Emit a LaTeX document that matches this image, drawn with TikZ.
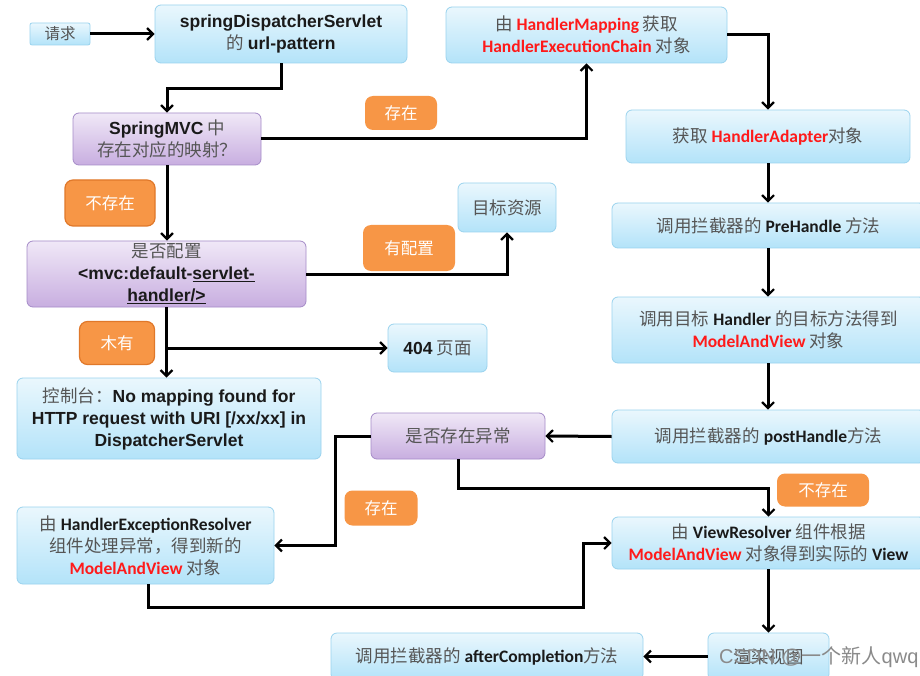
\documentclass[tikz,border=0pt]{standalone}
\usepackage{fontspec}
\setmainfont{Carlito}
\newfontfamily\cjk{Noto Sans CJK SC}
\newfontfamily\arialf{Liberation Sans}
\usetikzlibrary{arrows.meta}
\definecolor{zhgray}{HTML}{555555}
\definecolor{bluetop}{HTML}{EAF7FD}
\definecolor{bluebot}{HTML}{B3E3F9}
\definecolor{blueline}{HTML}{9AD3EE}
\definecolor{purtop}{HTML}{F0E8F7}
\definecolor{purbot}{HTML}{C8AEE0}
\definecolor{purline}{HTML}{A58BC8}
\definecolor{orfill}{HTML}{F79646}
\definecolor{orline}{HTML}{E0782A}
\definecolor{hired}{HTML}{FF1A1A}
\definecolor{txtblack}{HTML}{1A1A1A}
\definecolor{wmgray}{HTML}{8A8A8A}
\newcommand\zh[1]{{\cjk\fontsize{17.5}{22}\selectfont\color{zhgray}#1}}
\newcommand\rd[1]{{\bfseries\color{hired}#1}}
\newcommand\bk[1]{{\bfseries\color{txtblack}#1}}
\newcommand\ab[1]{{\arialf\bfseries\color{txtblack}#1}}
\begin{document}
\begin{tikzpicture}[x=1pt,y=-1pt,
  base/.style={align=center,inner sep=0pt,rounded corners=6pt,font=\fontsize{17.5}{22}\selectfont},
  bluebox/.style={base,draw=blueline,line width=0.8pt,top color=bluetop,bottom color=bluebot},
  purbox/.style={base,draw=purline,line width=0.8pt,top color=purtop,bottom color=purbot},
  orbox/.style={base,draw=orline,line width=1.2pt,fill=orfill,rounded corners=8pt,text=white,font=\cjk\fontsize{16.5}{20}\selectfont},
  arr/.style={line width=3pt,-{Straight Barb[length=6pt,width=12pt,line width=2.2pt]}},
  ln/.style={line width=3pt}]
\useasboundingbox (0,0) rectangle (920,676);
\fill[white] (0,0) rectangle (920,676);
% boxes
\node[bluebox,minimum width=60,minimum height=22,rounded corners=2pt] (req) at (60,34) {{\cjk\fontsize{15.5}{18}\selectfont\color{zhgray}请求}};
\node[bluebox,minimum width=252,minimum height=58] (sds) at (281,34) {\ab{springDispatcherServlet}\\\zh{的} \ab{url-pattern}};
\node[bluebox,minimum width=281,minimum height=56] (hm) at (586.5,35) {\zh{由} \rd{HandlerMapping} \zh{获取}\\\rd{HandlerExecutionChain} \zh{对象}};
\node[purbox,minimum width=188,minimum height=52] (smvc) at (167,139) {\ab{SpringMVC} \zh{中}\\\zh{存在对应的映射？}};
\node[bluebox,minimum width=284,minimum height=53] (adapter) at (768,136.5) {\zh{获取} \rd{HandlerAdapter}\zh{对象}};
\node[bluebox,minimum width=98,minimum height=49] (target) at (507,207.5) {\zh{目标资源}};
\node[purbox,minimum width=279,minimum height=66] (cfg) at (166.5,274) {\zh{是否配置}\\\ab{<mvc:default-\underline{servlet-}}\\\ab{\underline{handler/>}}};
\node[bluebox,minimum width=313,minimum height=45] (pre) at (768.5,225.5) {\zh{调用拦截器的} \bk{PreHandle} \zh{方法}};
\node[bluebox,minimum width=99,minimum height=48] (l404) at (437.5,348) {\ab{404} \zh{页面}};
\node[bluebox,minimum width=313,minimum height=66] (handler) at (768.5,330) {\zh{调用目标} \bk{Handler} \zh{的目标方法得到}\\\rd{ModelAndView} \zh{对象}};
\node[bluebox,minimum width=304,minimum height=81] (console) at (169,418.5) {\zh{控制台：}\ab{No mapping found for}\\\ab{HTTP request with URI [/xx/xx] in}\\\ab{DispatcherServlet}};
\node[purbox,minimum width=174,minimum height=46] (exc) at (458,436) {\zh{是否存在异常}};
\node[bluebox,minimum width=313,minimum height=53] (post) at (768.5,436.5) {\zh{调用拦截器的} \bk{postHandle}\zh{方法}};
\node[bluebox,minimum width=257,minimum height=77] (her) at (145.5,545.5) {\zh{由} \bk{HandlerExceptionResolver}\\\zh{组件处理异常，得到新的}\\\rd{ModelAndView} \zh{对象}};
\node[bluebox,minimum width=313,minimum height=52] (vr) at (768.5,543) {\zh{由} \bk{ViewResolver} \zh{组件根据}\\\rd{ModelAndView} \zh{对象得到实际的} \bk{View}};
\node[bluebox,minimum width=312,minimum height=47] (after) at (487,656.5) {\raisebox{-3pt}{\zh{调用拦截器的} \bk{afterCompletion}\zh{方法}}};
\node[bluebox,minimum width=121,minimum height=47] (render) at (768.5,656.5) {\raisebox{-3pt}{\zh{渲染视图}}};
% orange labels
\node[orbox,minimum width=72,minimum height=34,draw=none] (o1) at (401,113) {存在};
\node[orbox,minimum width=90,minimum height=46] (o2) at (110,203) {不存在};
\node[orbox,minimum width=92,minimum height=46,draw=none] (o3) at (409,248) {有配置};
\node[orbox,minimum width=75,minimum height=43] (o4) at (117,343) {木有};
\node[orbox,minimum width=73,minimum height=35,draw=none] (o5) at (381,508) {存在};
\node[orbox,minimum width=92,minimum height=33,draw=none] (o6) at (823,490) {不存在};
% connectors
\coordinate (k1) at (583,607);
\draw[arr] (req.east) -- (sds.west);
\draw[arr] (sds.south) -- ++(0,25) -| (smvc.north);
\draw[arr] (smvc.east) -| (hm.south);
\draw[arr] (hm.east) -| (adapter.north);
\draw[arr] (adapter.south) -- (adapter.south |- pre.north);
\draw[arr] (adapter.south |- pre.south) -- (adapter.south |- handler.north);
\draw[arr] (adapter.south |- handler.south) -- (adapter.south |- post.north);
\draw[arr] (post.west) -- (exc.east);
\draw[arr] (exc.west) -- ++(-35,0) |- (her.east);
\draw[arr] (exc.south) -- ++(0,29) -| (vr.north);
\draw[arr] ([xshift=3pt]her.south) |- (k1) |- (vr.west);
\draw[arr] (vr.south) -- (vr.south |- render.north);
\draw[arr] (render.west) -- (after.east);
\draw[arr] (smvc.south) -- (smvc.south |- cfg.north);
\draw[arr] (cfg.east) -| (target.south);
\draw[arr] (cfg.south) -- (cfg.south |- console.north);
\draw[arr] (cfg.south |- l404.west) -- (l404.west);
% watermark
\node[text=wmgray,inner sep=0pt,anchor=west,font=\fontsize{20}{22}\selectfont] (wm) at (719,657) {\arialf CSDN @{\cjk 一个新人}qwq};
\end{tikzpicture}
\end{document}
